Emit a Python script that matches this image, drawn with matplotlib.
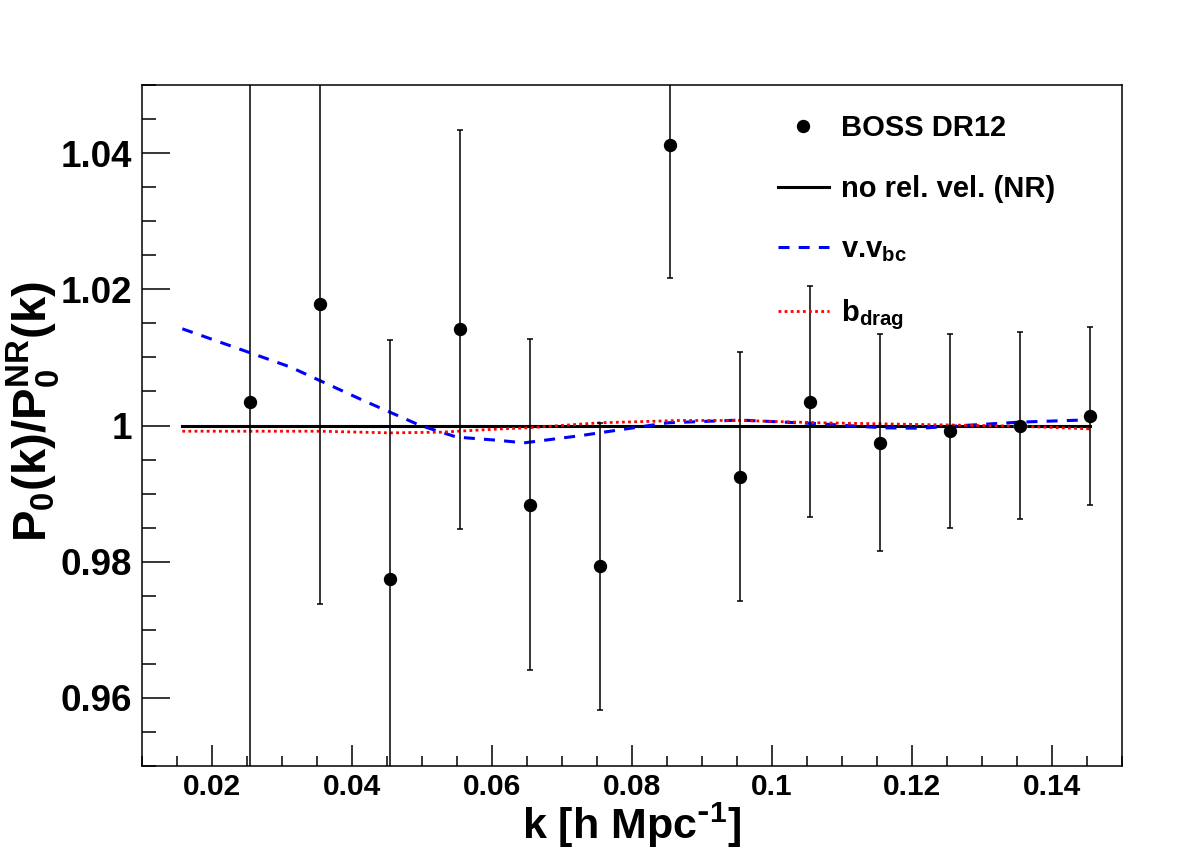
import matplotlib
matplotlib.use("Agg")
import matplotlib.pyplot as plt
from matplotlib.ticker import MultipleLocator, FormatStrFormatter

plt.rcParams['font.family'] = ['Liberation Sans', 'DejaVu Sans']
plt.rcParams['font.weight'] = 'bold'
plt.rcParams['mathtext.default'] = 'regular'

# BOSS DR12 ratio points
k_data = [0.0255, 0.0355, 0.0455, 0.0555, 0.0655, 0.0755, 0.0855,
          0.0955, 0.1055, 0.1155, 0.1255, 0.1355, 0.1455]
ratio_data = [1.0034, 1.0178, 0.9775, 1.0141, 0.9884, 0.9793, 1.0412,
              0.9925, 1.0035, 0.9975, 0.9992, 1.0000, 1.0014]
ratio_err = [0.070, 0.044, 0.035, 0.0293, 0.0243, 0.0211, 0.0196,
             0.0183, 0.0170, 0.0159, 0.0143, 0.0138, 0.0131]

# no relative velocity reference
k_nr = [0.0158, 0.1455]
ratio_nr = [1.0, 1.0]

# v.v_bc model
k_vbc = [0.0158, 0.0312, 0.0416, 0.0498, 0.0550, 0.0612, 0.0646, 0.0726,
         0.0783, 0.0852, 0.0955, 0.1069, 0.1160, 0.1212, 0.1298, 0.1355, 0.1455]
ratio_vbc = [1.0142, 1.0086, 1.0037, 1.0000, 0.9983, 0.9978, 0.99745, 0.9985,
             0.99937, 1.0004, 1.0008, 1.00025, 0.99966, 0.9996, 1.00015, 1.0005, 1.00084]

# b_drag model
k_drag = [0.0158, 0.0356, 0.0455, 0.0527, 0.0612, 0.0651, 0.0755, 0.0869,
          0.0955, 0.1069, 0.1240, 0.1355, 0.1455]
ratio_drag = [0.99916, 0.99916, 0.99892, 0.99902, 0.9995, 0.99966, 1.0004, 1.00074,
              1.00074, 1.0004, 1.0001, 0.9999, 0.9995]

fig = plt.figure(figsize=(11.82, 8.5), dpi=100)
ax = fig.add_axes([0.1199, 0.0988, 0.8291, 0.8012])

eb = ax.errorbar(k_data, ratio_data, yerr=ratio_err, fmt='o', color='black',
                 markersize=8.6, elinewidth=1.1, capsize=2.2, capthick=1.1, zorder=3)
l_nr, = ax.plot(k_nr, ratio_nr, color='black', lw=2.2, zorder=2)
l_vbc, = ax.plot(k_vbc, ratio_vbc, color='blue', lw=2.2, linestyle=(0, (3.6, 3.0)), zorder=2)
l_drag, = ax.plot(k_drag, ratio_drag, color='red', lw=2.0, linestyle=(0, (1, 1.2)), zorder=2)

ax.set_xlim(0.01, 0.15)
ax.set_ylim(0.95, 1.05)

ax.xaxis.set_major_locator(MultipleLocator(0.02))
ax.xaxis.set_minor_locator(MultipleLocator(0.005))
ax.yaxis.set_major_locator(MultipleLocator(0.02))
ax.yaxis.set_minor_locator(MultipleLocator(0.005))
ax.xaxis.set_major_formatter(FormatStrFormatter('%g'))
ax.yaxis.set_major_formatter(FormatStrFormatter('%g'))

ax.tick_params(axis='both', which='both', direction='in', top=False, right=False, width=1.1)
ax.tick_params(axis='y', which='major', length=20, pad=7, labelsize=26.5)
ax.tick_params(axis='y', which='minor', length=10)
ax.tick_params(axis='x', which='major', length=15, pad=5, labelsize=21.5)
ax.tick_params(axis='x', which='minor', length=7.5)
for s in ax.spines.values():
    s.set_linewidth(1.1)

ax.set_xlabel(r'k [h Mpc$^{\text{-}1}$]', fontsize=31, fontweight='bold')
ax.set_ylabel('P$_0$(k)/P$_0^{NR}$(k)', fontsize=34, fontweight='bold')
ax.xaxis.set_label_coords(0.5, -0.051)
ax.yaxis.set_label_coords(-0.081, 0.52)

ax.legend([eb[0], l_nr, l_vbc, l_drag],
          ['BOSS DR12', 'no rel. vel. (NR)', 'v.v$_{bc}$', 'b$_{drag}$'],
          loc='upper left', bbox_to_anchor=(0.649, 0.957), frameon=False,
          fontsize=21, handlelength=1.75, handletextpad=0.42, labelspacing=1.12,
          borderpad=0, borderaxespad=0, numpoints=1)

fig.savefig('out.png', dpi=100)
